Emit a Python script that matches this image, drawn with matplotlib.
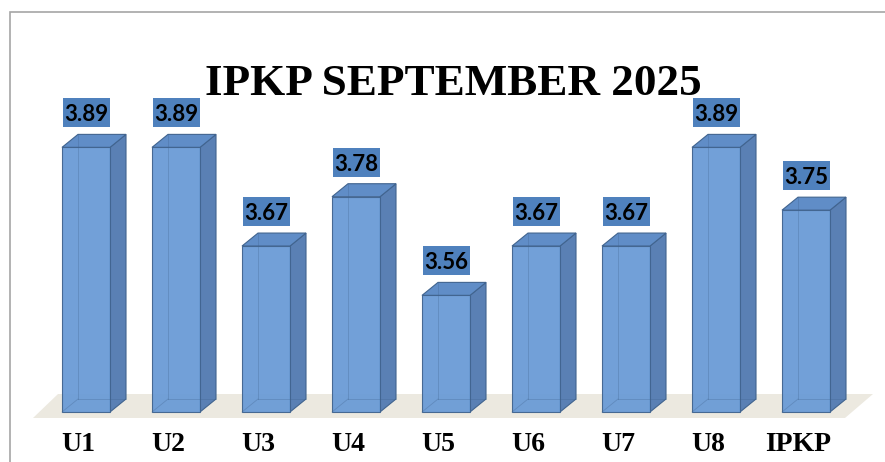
import numpy as np
import matplotlib.pyplot as plt
from matplotlib.patches import Polygon, Rectangle
from matplotlib.transforms import blended_transform_factory

# data
categories = ['U1', 'U2', 'U3', 'U4', 'U5', 'U6', 'U7', 'U8', 'IPKP']
values = [3.89, 3.89, 3.67, 3.78, 3.56, 3.67, 3.67, 3.89, 3.75]
title = 'IPKP SEPTEMBER 2025'

# colours
c_front = '#6A9BD6'
c_side = '#5A80B4'
c_top = '#608DC7'
c_edge = '#41648F'
c_label = '#4F81BD'
c_floor = '#ECE9E0'

W, H = 885, 462
fig = plt.figure(figsize=(W / 100, H / 100), dpi=100)
ax = fig.add_axes([0, 0, 1, 1])

# skala: satu kategori = 90 px, satu satuan nilai = 448.5 px, dasar 3.3 di y=412 px
px_x, px_y = 90.0, 448.5
base = 3.3
x0 = -86 / px_x
ax.set_xlim(x0, x0 + W / px_x)
ax.set_ylim(base - (H - 412) / px_y, base + 412 / px_y)
ax.axis('off')

hw = 24 / px_x          # setengah lebar muka depan
ddx = 16 / px_x         # kedalaman x
ddy = 13 / px_y         # kedalaman y

# lantai
fy0 = base - 6 / px_y
fy1 = base + 18 / px_y
floor = Polygon([(x0 + 33 / px_x, fy0), (x0 + 58 / px_x, fy1),
                 (x0 + 873 / px_x, fy1), (x0 + 845 / px_x, fy0)],
                closed=True, facecolor=c_floor, edgecolor='none', zorder=1)
ax.add_patch(floor)

bw, bh = 47 / px_x, 29 / px_y   # ukuran kotak label

for i, v in enumerate(values):
    l, r = i - hw, i + hw
    # garis belakang yang tersembunyi
    ax.plot([l + ddx, l + ddx], [base + ddy, v + ddy], color=c_edge, lw=0.6, alpha=0.35, zorder=4)
    ax.plot([l + ddx, r + ddx], [base + ddy, base + ddy], color=c_edge, lw=0.6, alpha=0.35, zorder=4)
    ax.plot([l, l + ddx], [base, base + ddy], color=c_edge, lw=0.6, alpha=0.35, zorder=4)
    side = Polygon([(r, base), (r + ddx, base + ddy), (r + ddx, v + ddy), (r, v)],
                   facecolor=c_side, edgecolor=c_edge, lw=0.8, zorder=2)
    top = Polygon([(l, v), (l + ddx, v + ddy), (r + ddx, v + ddy), (r, v)],
                  facecolor=c_top, edgecolor=c_edge, lw=0.8, zorder=2)
    front = Polygon([(l, base), (l, v), (r, v), (r, base)],
                    facecolor=c_front, edgecolor=c_edge, lw=0.8, alpha=0.95, zorder=3)
    for p in (side, top, front):
        ax.add_patch(p)
    # label nilai
    yb = v + 20 / px_y
    ax.add_patch(Rectangle((i - bw / 2, yb), bw, bh, facecolor=c_label,
                           edgecolor='none', zorder=5))
    ax.text(i, yb + bh / 2, f'{v:.2f}', ha='center', va='center_baseline',
            fontsize=16, fontweight='bold', family='Lato', color='black', zorder=6)

# label kategori
tr = blended_transform_factory(ax.transData, fig.transFigure)
for i, c in enumerate(categories):
    ax.text(i - 8 / px_x, (H - 451) / H, c, transform=tr, ha='center', va='baseline',
            fontsize=20, fontweight='bold', family='Liberation Serif')

fig.text(0.512, 1 - 95 / H, title, ha='center', va='baseline',
         fontsize=32.5, fontweight='bold', family='Liberation Serif')

# bingkai grafik
fig.add_artist(Rectangle((10 / W, -0.1), 2, 1.1 - 12 / H, transform=fig.transFigure,
                         fill=False, edgecolor='#A6A6A6', lw=1.2))

fig.savefig('out.png', dpi=100)
